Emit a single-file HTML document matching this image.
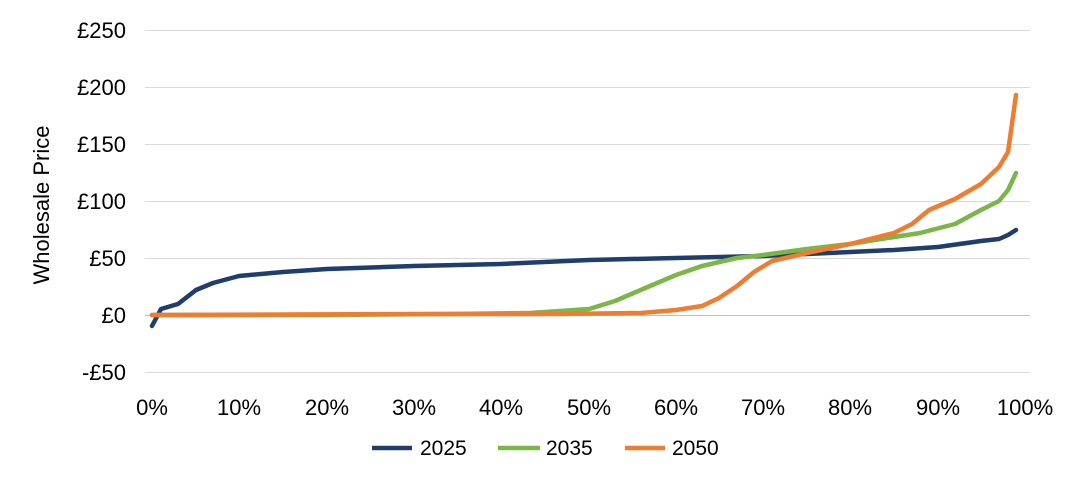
<!DOCTYPE html>
<html><head><meta charset="utf-8"><style>
body{margin:0;background:#fff;}
svg text{font-family:"Liberation Sans",sans-serif;fill:#000;}
</style></head><body>
<svg width="1080" height="472" viewBox="0 0 1080 472" xmlns="http://www.w3.org/2000/svg">
<g stroke="#d9d9d9" stroke-width="1">
<line x1="145" x2="1030" y1="30.5" y2="30.5"/>
<line x1="145" x2="1030" y1="87.5" y2="87.5"/>
<line x1="145" x2="1030" y1="144.5" y2="144.5"/>
<line x1="145" x2="1030" y1="201.5" y2="201.5"/>
<line x1="145" x2="1030" y1="258.5" y2="258.5"/>
<line x1="145" x2="1030" y1="372.5" y2="372.5"/>
</g>
<line x1="145" x2="1030" y1="315.5" y2="315.5" stroke="#bfbfbf" stroke-width="1"/>
<g font-size="22" text-anchor="end">
<text x="126" y="38">£250</text>
<text x="126" y="95">£200</text>
<text x="126" y="152">£150</text>
<text x="126" y="209">£100</text>
<text x="126" y="266">£50</text>
<text x="126" y="323">£0</text>
<text x="126" y="380">-£50</text>
</g>
<g font-size="22" text-anchor="middle">
<text x="152" y="415">0%</text><text x="239" y="415">10%</text><text x="327" y="415">20%</text><text x="414" y="415">30%</text><text x="501" y="415">40%</text><text x="589" y="415">50%</text><text x="676" y="415">60%</text><text x="763" y="415">70%</text><text x="850" y="415">80%</text><text x="938" y="415">90%</text><text x="1025" y="415">100%</text>
</g>
<text font-size="22" text-anchor="middle" transform="translate(49,205) rotate(-90)">Wholesale Price</text>
<g fill="none" stroke-width="4.5" stroke-linejoin="round" stroke-linecap="round">
<polyline stroke="#1f3e6d" points="152,326 161,309 178,304 196,290 213,283 239,276 283,272 327,269 414,266 501,264 589,260 676,258 763,256 850,252 894,250 938,247 981,241 999,239 1008,235 1016,230"/>
<polyline stroke="#7ab648" points="152,315 327,315 450,314 530,313 560,311 589,309 615,301 650,286 676,275 702,266 737,258 763,255 807,249 850,244 894,237 920,233 955,224 981,210 999,201 1008,190 1016,173"/>
<polyline stroke="#ee7d31" points="152,315 414,314 560,314 641,313 676,310 702,306 719,298 737,286 754,272 772,261 807,253 850,244 894,233 912,224 929,210 955,199 981,184 999,167 1008,152 1016,95"/>
</g>
<g stroke-width="4.5">
<line x1="372" x2="412" y1="448" y2="448" stroke="#1f3e6d"/>
<line x1="498" x2="540" y1="448" y2="448" stroke="#7ab648"/>
<line x1="625" x2="665" y1="448" y2="448" stroke="#ee7d31"/>
</g>
<g font-size="21">
<text x="420" y="455">2025</text>
<text x="546" y="455">2035</text>
<text x="672" y="455">2050</text>
</g>
</svg>
</body></html>
